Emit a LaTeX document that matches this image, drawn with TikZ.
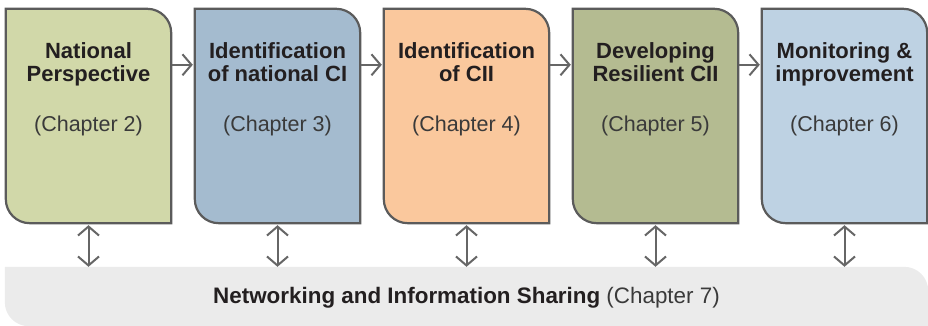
\documentclass[tikz,border=0pt]{standalone}
\usepackage{fontspec}
\setmainfont{Liberation Sans}
\usetikzlibrary{arrows.meta}
\definecolor{cA}{HTML}{D1D8A9}
\definecolor{cB}{HTML}{A4BBCF}
\definecolor{cC}{HTML}{FAC89D}
\definecolor{cD}{HTML}{B4BB91}
\definecolor{cE}{HTML}{BED2E3}
\definecolor{barfill}{HTML}{EBEBEB}
\definecolor{bordergray}{HTML}{5B5B5B}
\definecolor{arrowgray}{HTML}{666666}
\definecolor{textdark}{HTML}{231F20}
\definecolor{textgray}{HTML}{3A3A3A}
\newcommand\cornerbox[3]{% name, radius, style
  \path[#3] (#1.north west) -- ([xshift=-#2]#1.north east)
    arc[start angle=90,end angle=0,radius=#2] -- (#1.south east)
    -- ([xshift=#2]#1.south west)
    arc[start angle=270,end angle=180,radius=#2] -- cycle;}
\begin{document}
\begin{tikzpicture}[x=1pt,y=1pt,
  boxnode/.style={minimum width=165pt, minimum height=214pt, inner sep=0pt, draw=none},
  outline/.style={draw=bordergray, line width=2.2pt},
  title/.style={anchor=base, align=center, inner sep=0pt, text=textdark,
    font=\fontsize{22}{23}\selectfont\bfseries},
  chap/.style={anchor=base, inner sep=0pt, text=textgray,
    font=\fontsize{21.5}{23}\selectfont},
  flow/.style={draw=arrowgray, line width=2pt, -{Straight Barb[length=9pt, width=21pt]},
    shorten >=2pt, shorten <=1pt},
  both/.style={draw=arrowgray, line width=2pt,
    {Straight Barb[length=9pt, width=21pt]}-{Straight Barb[length=9pt, width=21pt]}}
]
\useasboundingbox (0,0) rectangle (928,326);

% bottom bar
\node[minimum width=923pt, minimum height=59pt, inner sep=0pt] (bar) at (466.5,29.5) {};
\cornerbox{bar}{24pt}{fill=barfill}
\node[anchor=base, inner sep=0pt, text=textdark, font=\fontsize{22.4}{24}\selectfont] (bartext) at (466.5,22)
  {\textbf{Networking and Information Sharing} \textcolor{textgray}{(Chapter 7)}};

% boxes
\node[boxnode] (b1) at (88.5,210) {};
\node[boxnode] (b2) at (277.5,210) {};
\node[boxnode] (b3) at (466.5,210) {};
\node[boxnode] (b4) at (655.5,210) {};
\node[boxnode] (b5) at (844.5,210) {};
\cornerbox{b1}{24pt}{outline, fill=cA}
\cornerbox{b2}{24pt}{outline, fill=cB}
\cornerbox{b3}{24pt}{outline, fill=cC}
\cornerbox{b4}{24pt}{outline, fill=cD}
\cornerbox{b5}{24pt}{outline, fill=cE}

% texts (base anchor = last line's baseline)
\node[title] (t1) at (88.5,244) {National\\Perspective};
\node[title] (t2) at (277.5,244) {Identification\\of national CI};
\node[title] (t3) at (466.5,244) {Identification\\of CII};
\node[title] (t4) at (655.5,244) {Developing\\Resilient CII};
\node[title] (t5) at (844.5,244) {Monitoring \&\\improvement};
\node[chap] (c1) at (88.5,194) {(Chapter 2)};
\node[chap] (c2) at (277.5,194) {(Chapter 3)};
\node[chap] (c3) at (466.5,194) {(Chapter 4)};
\node[chap] (c4) at (655.5,194) {(Chapter 5)};
\node[chap] (c5) at (844.5,194) {(Chapter 6)};

% horizontal arrows
\draw[flow] ([yshift=-56pt]b1.north east) -- ([yshift=-56pt]b2.north west);
\draw[flow] ([yshift=-56pt]b2.north east) -- ([yshift=-56pt]b3.north west);
\draw[flow] ([yshift=-56pt]b3.north east) -- ([yshift=-56pt]b4.north west);
\draw[flow] ([yshift=-56pt]b4.north east) -- ([yshift=-56pt]b5.north west);

% vertical double arrows
\draw[both] ([yshift=-2pt]b1.south) -- (b1.south |- bar.north);
\draw[both] ([yshift=-2pt]b2.south) -- (b2.south |- bar.north);
\draw[both] ([yshift=-2pt]b3.south) -- (b3.south |- bar.north);
\draw[both] ([yshift=-2pt]b4.south) -- (b4.south |- bar.north);
\draw[both] ([yshift=-2pt]b5.south) -- (b5.south |- bar.north);
\end{tikzpicture}
\end{document}
